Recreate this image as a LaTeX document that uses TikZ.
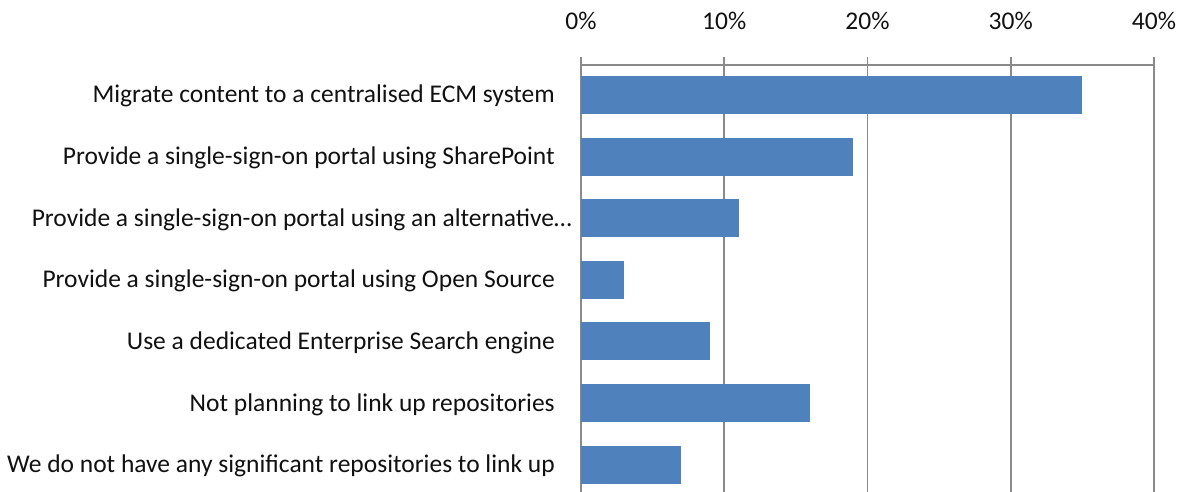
\documentclass[tikz,border=0pt]{standalone}
\usepackage{fontspec}
\setmainfont{Carlito}
\definecolor{barblue}{HTML}{4F81BD}
\definecolor{gridgray}{HTML}{8A8A8A}
\definecolor{txt}{HTML}{111111}
\begin{document}
\begin{tikzpicture}[x=1pt,y=-1pt,
  lbl/.style={anchor=base east,inner sep=0pt,text=txt,font=\fontsize{25.5}{30}\selectfont},
  ticklbl/.style={anchor=base,inner sep=0pt,text=txt,font=\fontsize{25.5}{30}\selectfont},
  gridln/.style={draw=gridgray,line width=1.8pt},
  barbox/.style={fill=barblue,draw=none,inner sep=0pt}]
\useasboundingbox (0,0) rectangle (1189,492);
% grid lines and axis
\foreach \k/\t in {0/0\%,1/10\%,2/20\%,3/30\%,4/40\%}{
  \coordinate (gt\k) at ({581+143.25*\k},57);
  \coordinate (gb\k) at ({581+143.25*\k},492);
  \draw[gridln] (gt\k) -- (gb\k);
  \node[ticklbl] (tl\k) at ({581+143.25*\k},29.5) {\t};
}
\coordinate (ax0) at (581,65);
\coordinate (ax1) at (1154,65);
\draw[gridln] (ax0) -- (ax1);
% bars
\foreach \i/\v in {0/35,1/19,2/11,3/3,4/9,5/16,6/7}{
  \fill[barblue] (581,{76+61.6*\i}) rectangle ({581+14.325*\v},{114+61.6*\i});
}
% labels
\node[lbl] (l0) at (555,{95+8}) {Migrate content to a centralised ECM system};
\node[lbl] (l1) at (555,{95+61.6+8}) {Provide a single-sign-on portal using SharePoint};
\node[lbl] (l2) at (572,{95+2*61.6+8}) {Provide a single-sign-on portal using an alternative…};
\node[lbl] (l3) at (555,{95+3*61.6+8}) {Provide a single-sign-on portal using Open Source};
\node[lbl] (l4) at (555,{95+4*61.6+8}) {Use a dedicated Enterprise Search engine};
\node[lbl] (l5) at (555,{95+5*61.6+8}) {Not planning to link up repositories};
\node[lbl] (l6) at (555,{95+6*61.6+8}) {We do not have any significant repositories to link up};
\end{tikzpicture}
\end{document}
